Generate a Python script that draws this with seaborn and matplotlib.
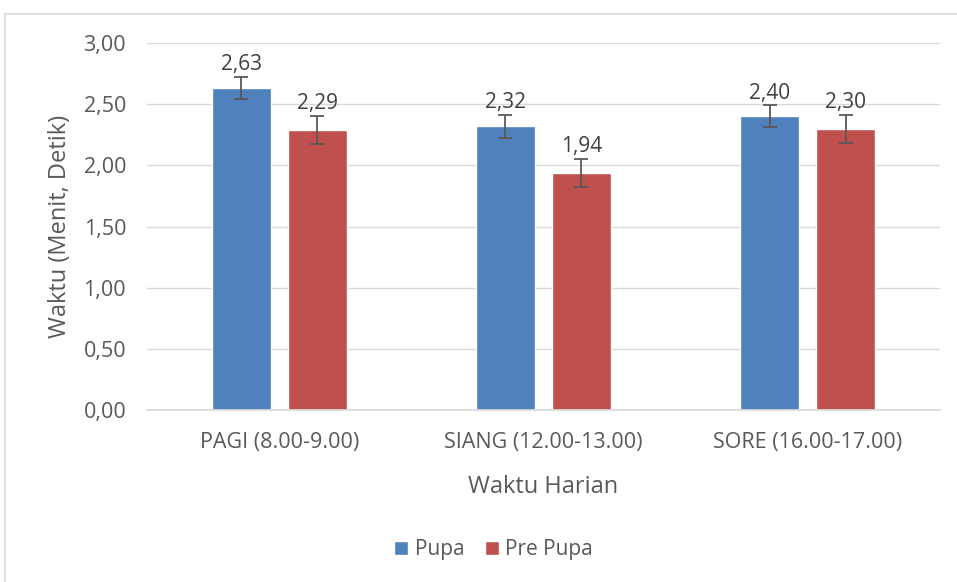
import numpy as np
import pandas as pd
import seaborn as sns
import matplotlib.pyplot as plt
from matplotlib.lines import Line2D
from matplotlib.patches import Patch

# data
categories = ["PAGI (8.00-9.00)", "SIANG (12.00-13.00)", "SORE (16.00-17.00)"]
series = ["Pupa", "Pre Pupa"]
pupa = [2.63, 2.32, 2.40]
pre_pupa = [2.29, 1.94, 2.30]
pupa_err = [0.09, 0.095, 0.09]
pre_pupa_err = [0.115, 0.115, 0.115]
y_ticks = [0.0, 0.5, 1.0, 1.5, 2.0, 2.5, 3.0]

colors = {"Pupa": "#4F81BD", "Pre Pupa": "#C0504D"}

df = pd.DataFrame({
    "Waktu": categories * 2,
    "Seri": ["Pupa"] * 3 + ["Pre Pupa"] * 3,
    "Nilai": pupa + pre_pupa,
    "Err": pupa_err + pre_pupa_err,
})

sns.set_theme(style="white")
plt.rcParams["font.family"] = ["Open Sans", "DejaVu Sans"]

fig = plt.figure(figsize=(9.57, 5.82), dpi=100)
ax = fig.add_axes([0.1536, 0.2955, 0.8284, 0.6306])

sns.barplot(data=df, x="Waktu", y="Nilai", hue="Seri", hue_order=series,
            palette=colors, width=0.576, gap=0.224, errorbar=None,
            legend=False, ax=ax, saturation=1)

# error bars + value labels
for i, s in enumerate(series):
    sub = df[df["Seri"] == s]
    cont = ax.containers[i]
    xs = [p.get_x() + p.get_width() / 2 for p in cont.patches]
    ax.errorbar(xs, sub["Nilai"], yerr=sub["Err"], fmt="none",
                ecolor="#595959", elinewidth=1.3, capsize=5, capthick=1.3, zorder=5)
    for x, v, e in zip(xs, sub["Nilai"], sub["Err"]):
        ax.text(x, v + e + 0.015, f"{v:.2f}".replace(".", ","), ha="center",
                va="bottom", fontsize=15, color="#404040")

ax.set_xlim(-0.5, 2.5)
ax.set_ylim(0, 3.0)
ax.set_yticks(y_ticks)
ax.set_yticklabels([f"{t:.2f}".replace(".", ",") for t in y_ticks])
ax.yaxis.grid(True, color="#D9D9D9", linewidth=1)
ax.set_axisbelow(True)
for sp in ["left", "right", "top"]:
    ax.spines[sp].set_visible(False)
ax.spines["bottom"].set_color("#D9D9D9")
ax.tick_params(axis="both", length=0, labelsize=15.5, colors="#595959", pad=15)
ax.tick_params(axis="x", labelsize=15.5, pad=16)

ax.set_xlabel("Waktu Harian", fontsize=17, color="#595959", labelpad=16)
ax.set_ylabel("Waktu (Menit, Detik)", fontsize=17, color="#595959", labelpad=8)

handles = [Patch(facecolor=colors[s], label=s) for s in series]
fig.legend(handles=handles, loc="center", bbox_to_anchor=(0.516, 0.055), ncol=2,
           frameon=False, fontsize=15, handlelength=0.67, handleheight=0.67,
           handletextpad=0.3, columnspacing=1.0, labelcolor="#595959")

# chart area border
fig.add_artist(Line2D([5 / 957, 1], [1 - 13.5 / 582] * 2, color="#D9D9D9", lw=1.2))
fig.add_artist(Line2D([5 / 957] * 2, [0, 1 - 13.5 / 582], color="#D9D9D9", lw=1.2))

fig.savefig("out.png", dpi=100)
